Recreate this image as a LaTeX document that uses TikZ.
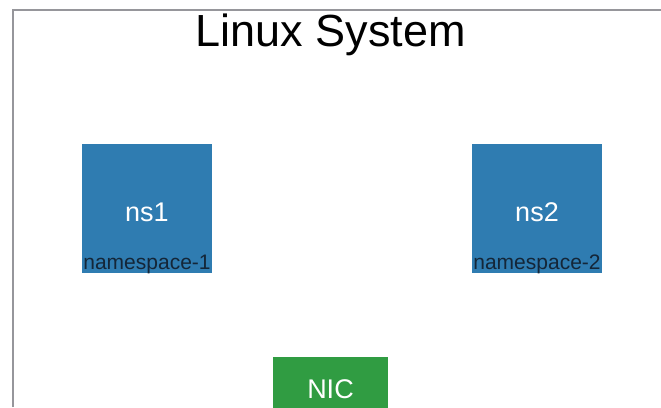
\documentclass[tikz,border=0pt]{standalone}
\usepackage{fontspec}
\setmainfont{Liberation Sans}
\usetikzlibrary{positioning}

\definecolor{nsblue}{RGB}{47,124,177}
\definecolor{nicgreen}{RGB}{48,156,66}
\definecolor{framegray}{RGB}{150,150,155}
\definecolor{lbldark}{RGB}{20,38,56}

\begin{document}
\begin{tikzpicture}[x=1pt,y=-1pt,
        nsbox/.style={fill=nsblue, minimum width=130pt, minimum height=129pt, inner sep=0pt},
        nicbox/.style={fill=nicgreen, minimum width=115pt, minimum height=60pt, inner sep=0pt},
        nstext/.style={text=white, font=\fontsize{27}{30}\selectfont},
        nslabel/.style={text=lbldark, font=\fontsize{21}{24}\selectfont, inner sep=0pt}]
        % Fix the page to the size of the reference
        \clip (0,0) rectangle (661,407);
        \fill[white] (0,0) rectangle (661,407);

        % Frame of the system (only top and left edges show)
        \draw[framegray, line width=2.2pt] (13,407) -- (13,10) -- (661,10);
        \node[anchor=base, inner sep=0pt] (title) at (331,46) {\fontsize{45}{50}\selectfont Linux System};

        % The two namespaces
        \node[nsbox] (ns1) at (147,208.5) {};
        \node[nsbox] (ns2) at (537,208.5) {};
        \node[nstext] (ns1txt) at ([yshift=-4pt]ns1.center) {ns1};
        \node[nstext] (ns2txt) at ([yshift=-4pt]ns2.center) {ns2};
        \node[nslabel, anchor=base] (ns1lbl) at ([yshift=4pt]ns1.south) {namespace-1};
        \node[nslabel, anchor=base] (ns2lbl) at ([yshift=4pt]ns2.south) {namespace-2};

        % The network card at the bottom
        \node[nicbox] (nic) at (330.5,387) {};
        \node[nstext] (nictxt) at ([yshift=-2pt]nic.center) {NIC};

    \end{tikzpicture}
\end{document}
